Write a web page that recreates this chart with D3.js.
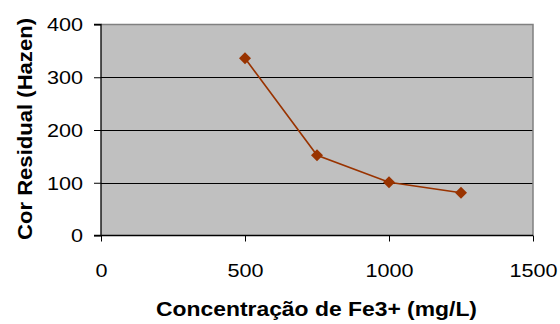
<!DOCTYPE html>
<html><head><meta charset="utf-8">
<script src="https://cdn.jsdelivr.net/npm/d3@7"></script>
<style>body{margin:0;background:#fff}svg{display:block}text{font-family:"Liberation Sans",Arial,sans-serif;fill:#000}</style>
</head><body><svg width="560" height="324"></svg>
<script>
const concentration = [500, 750, 1000, 1250];
const corResidual = [336, 152, 101, 81];
const xTicks = [0, 500, 1000, 1500];
const yTicks = [0, 100, 200, 300, 400];
const xTitle = "Concentração de Fe3+ (mg/L)";
const yTitle = "Cor Residual (Hazen)";

const svg = d3.select("svg");
const L = 101, R = 533, T = 24.5, B = 235.5;
const x = d3.scaleLinear().domain([0, 1500]).range([L, R]);
const y = d3.scaleLinear().domain([0, 400]).range([B, T]);

svg.append("rect").attr("x", L).attr("y", T).attr("width", R - L).attr("height", B - T).attr("fill", "#c0c0c0");
svg.append("g").selectAll("line").data(yTicks.filter(d => d > 0 && d < 400)).join("line")
  .attr("x1", L).attr("x2", R).attr("y1", d => Math.round(y(d)) + 0.5).attr("y2", d => Math.round(y(d)) + 0.5)
  .attr("stroke", "#000").attr("stroke-width", 1);
svg.append("path").attr("d", `M${L},${T}H${R}V${B}`).attr("fill", "none").attr("stroke", "#808080").attr("stroke-width", 1.5);

const xAxis = svg.append("g").attr("transform", `translate(0,${B})`)
  .call(d3.axisBottom(x).tickValues(xTicks).tickSize(6).tickFormat(d3.format("d")));
const yAxis = svg.append("g").attr("transform", `translate(${L},0)`)
  .call(d3.axisLeft(y).tickValues(yTicks).tickSize(7).tickFormat(d3.format("d")));
[xAxis, yAxis].forEach(g => {
  g.attr("font-size", 18).attr("font-family", '"Liberation Sans",Arial,sans-serif');
  g.select(".domain").attr("stroke", "#000").attr("stroke-width", 1.3);
  g.selectAll(".tick line").attr("stroke", "#000");
});
yAxis.select(".domain").attr("d", `M-7,${B}H0V${T}H-7`);
xAxis.select(".domain").attr("d", `M${L},0H${R}`);
// widen glyphs horizontally as in the reference
xAxis.selectAll(".tick text").attr("y", 0).attr("dy", 0)
  .attr("transform", "translate(0,41) scale(1.2,1)");
yAxis.selectAll(".tick text").attr("x", 0).attr("dy", "0.36em")
  .attr("transform", "translate(-18,0) scale(1.2,1)");

const line = d3.line().x((d, i) => x(concentration[i])).y(d => y(d));
svg.append("path").datum(corResidual).attr("d", line).attr("fill", "none").attr("stroke", "#993300").attr("stroke-width", 1.6);
svg.append("g").selectAll("path").data(corResidual).join("path")
  .attr("transform", (d, i) => `translate(${x(concentration[i])},${y(d)})`)
  .attr("d", "M0,-6L6,0L0,6L-6,0Z").attr("fill", "#993300");

svg.append("text").attr("x", 316.5).attr("y", 316).attr("text-anchor", "middle")
  .attr("font-weight", "bold").attr("font-size", 20).text(xTitle)
  .attr("textLength", 321).attr("lengthAdjust", "spacingAndGlyphs");
svg.append("text").attr("transform", "translate(32,129) rotate(-90)").attr("text-anchor", "middle")
  .attr("font-weight", "bold").attr("font-size", 20.5).text(yTitle)
  .attr("textLength", 222).attr("lengthAdjust", "spacingAndGlyphs");
</script></body></html>
